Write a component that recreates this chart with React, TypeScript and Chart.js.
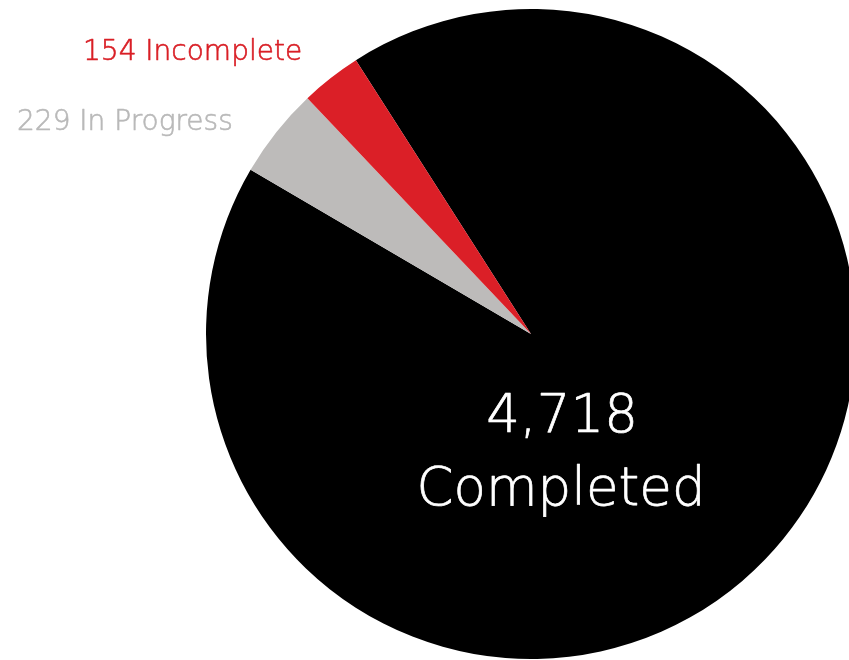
import React, { useEffect, useRef } from "react";
import { Chart, registerables } from "chart.js";

Chart.register(...registerables);

const categories = ["Completed", "In Progress", "Incomplete"];
const counts = [4718, 229, 154];
const sliceColors = ["#000000", "#bdbbba", "#db1f27"];
const labelColors = ["#ffffff", "#b9b9b9", "#d91f26"];

const fmt = (n: number) => n.toLocaleString("en-US");

function heavyText(ctx: CanvasRenderingContext2D, text: string, x: number, y: number, color: string, weight: number) {
  ctx.fillStyle = color;
  ctx.strokeStyle = color;
  ctx.lineWidth = weight;
  ctx.lineJoin = "round";
  ctx.fillText(text, x, y);
  ctx.strokeText(text, x, y);
}

const labelPlugin = {
  id: "sliceLabels",
  afterDraw(chart: any) {
    const ctx = chart.ctx;
    const arc = chart.getDatasetMeta(0).data[0];
    const cx = arc.x;
    const cy = arc.y;
    ctx.save();
    ctx.textBaseline = "alphabetic";
    // center label for Completed
    ctx.textAlign = "center";
    ctx.font = "200 53px 'DejaVu Sans', sans-serif";
    heavyText(ctx, fmt(counts[0]), cx + 31, cy + 98, labelColors[0], 0.7);
    heavyText(ctx, categories[0], cx + 30, cy + 171, labelColors[0], 0.7);
    // outside labels
    ctx.font = "200 28px 'DejaVu Sans', sans-serif";
    ctx.textAlign = "left";
    heavyText(ctx, `${fmt(counts[2])} ${categories[2]}`, 83, 60, labelColors[2], 0.6);
    heavyText(ctx, `${fmt(counts[1])} ${categories[1]}`, 17, 130, labelColors[1], 0.6);
    ctx.restore();
  },
};

export default function App() {
  const ref = useRef<HTMLCanvasElement | null>(null);
  useEffect(() => {
    document.body.style.margin = "0";
    document.body.style.overflow = "hidden";
    const chart = new Chart(ref.current!, {
      type: "pie",
      data: {
        labels: categories,
        datasets: [
          {
            data: counts,
            backgroundColor: sliceColors,
            borderWidth: 0,
            hoverOffset: 0,
          },
        ],
      },
      options: {
        responsive: false,
        animation: false,
        devicePixelRatio: 1,
        rotation: -32.6,
        layout: { padding: { left: 206, top: 9, right: 14, bottom: 1 } },
        plugins: {
          legend: { display: false },
          tooltip: { enabled: false },
        },
      },
      plugins: [labelPlugin],
    });
    return () => chart.destroy();
  }, []);
  return (
    <div style={{ width: 849, height: 660, overflow: "hidden", position: "relative", background: "#fff" }}>
      <canvas ref={ref} width={870} height={660} style={{ display: "block" }} />
    </div>
  );
}
